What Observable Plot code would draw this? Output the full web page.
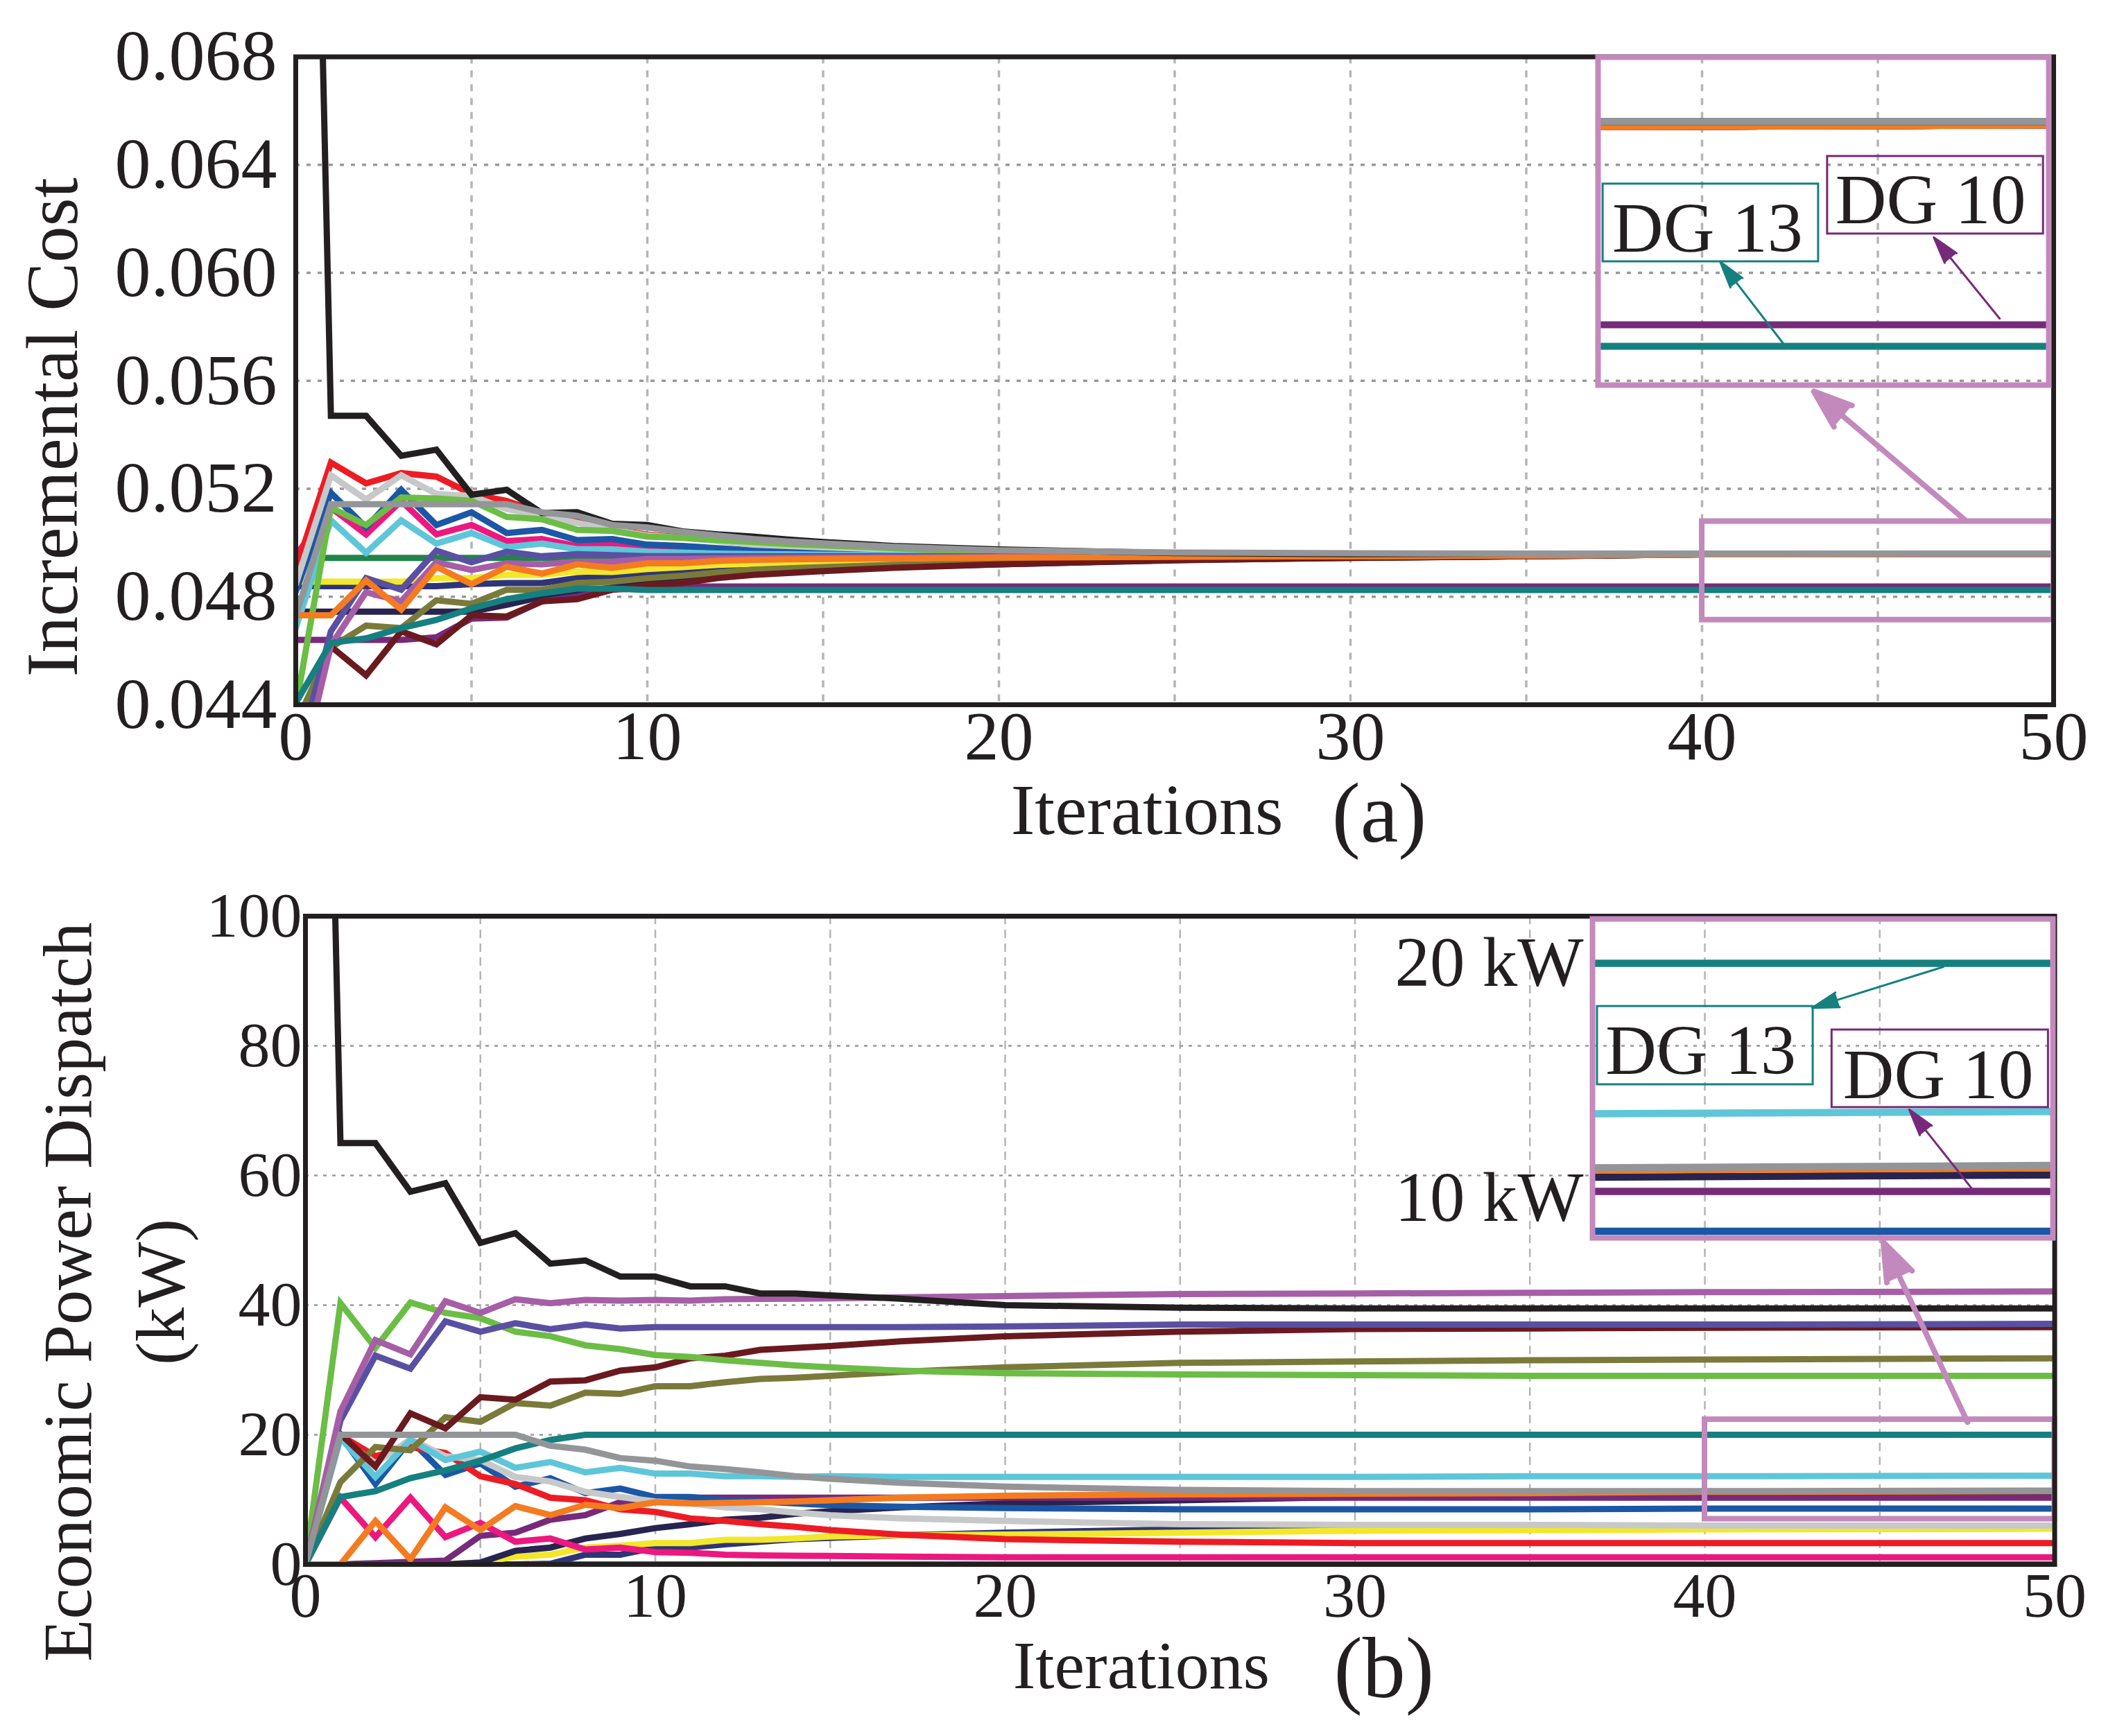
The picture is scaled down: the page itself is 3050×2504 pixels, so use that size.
<!DOCTYPE html>
<html><head><meta charset="utf-8">
<script src="https://cdn.jsdelivr.net/npm/d3@7"></script>
<script src="https://cdn.jsdelivr.net/npm/@observablehq/plot@0.6"></script>
<style>
html,body{margin:0;padding:0;background:#fff;overflow:hidden}
#fig{position:relative;width:3050px;height:2504px;background:#fff}
#fig > div{position:absolute}
</style></head><body><div id="fig">
<div id="top" style="left:0;top:0"></div>
<div id="bottom" style="left:0;top:1252px"></div>
<div id="insetTop" style="left:2294px;top:72px"></div>
<div id="insetBottom" style="left:1996px;top:1315px"></div>
</div>
<script>
// ---------- data ----------
const iterations = [0,1,2,3,4,5,6,7,8,9,10,11,12,13,14,15,17,20,25,30,35,40,50];

const seriesOrder = ["darkGreen","navy","yellow","darkNavy","purple","pink","blue","red","lightGray","cyan","olive","maroon","green","slate","lightPurple","orange","teal","black","gray"];
const seriesColors = ["#21844a","#2e3577","#f2e72a","#28244f","#772a7a","#ec187f","#1b57a5","#ed1c24","#c7c8ca","#5ec6d8","#7a7a3b","#6a1a1f","#6cbd45","#5950a2","#a65ea6","#f47b20","#15807f","#231f20","#939598"];

// (a) incremental cost
const costBlack = [0.1125,0.0547,0.0547,0.05322,0.05345,0.05178,0.05196,0.0511,0.05113,0.0507,0.05066,0.05042,0.05031,0.05023,0.05012,0.05003,0.04988,0.04975,0.04962,0.04958,0.0496,0.0496,0.0496];
const costRed = [0.0490,0.05297,0.0522,0.05258,0.05245,0.05181,0.05155,0.0511,0.0508,0.0505,0.0503,0.0502,0.0501,0.0500,0.04992,0.04985,0.04975,0.04963,0.0495,0.04951,0.04953,0.04957,0.04958];
const costLightGray = [0.04846,0.0525,0.0516,0.0525,0.05181,0.05173,0.05125,0.051,0.05074,0.05048,0.05027,0.05018,0.05006,0.04993,0.04988,0.04983,0.04975,0.04964,0.04952,0.04951,0.04953,0.04957,0.04958];
const costGray = [0.04729,0.05143,0.05143,0.05143,0.05143,0.05143,0.05143,0.05113,0.051,0.05066,0.05057,0.0504,0.05027,0.05014,0.05005,0.04998,0.04985,0.04972,0.04964,0.04961,0.0496,0.0496,0.0496];
const costGreen = [0.0439,0.0513,0.05066,0.05168,0.05164,0.05155,0.05096,0.05087,0.05048,0.05044,0.05023,0.05018,0.0501,0.05003,0.04995,0.0499,0.0498,0.04962,0.0495,0.04951,0.04953,0.04957,0.04958];
const costBlue = [0.04819,0.05185,0.05057,0.05196,0.05066,0.05113,0.05036,0.05048,0.0501,0.05014,0.04993,0.04988,0.0498,0.04972,0.04968,0.04965,0.0496,0.04955,0.0495,0.04951,0.04953,0.04957,0.04958];
const costPink = [0.04953,0.0513,0.05031,0.05155,0.05031,0.05066,0.05006,0.05014,0.04988,0.04993,0.0498,0.0498,0.04971,0.04967,0.04963,0.0496,0.04958,0.04955,0.0495,0.04951,0.04953,0.04957,0.04958];
const costCyan = [0.04684,0.05083,0.04963,0.05083,0.04997,0.05036,0.04984,0.04997,0.04976,0.04976,0.04967,0.04963,0.0496,0.04958,0.04957,0.04956,0.04954,0.04952,0.04949,0.04951,0.04953,0.04957,0.04958];
const costDarkGreen = [0.04944,0.04944,0.04944,0.04944,0.04944,0.04944,0.04944,0.04944,0.04944,0.04944,0.04944,0.04944,0.04944,0.04944,0.04944,0.04944,0.04945,0.04946,0.04948,0.0495,0.04952,0.04957,0.04958];
const costSlate = [0.0418,0.04672,0.04869,0.04826,0.04971,0.04928,0.04967,0.0495,0.04958,0.04954,0.0495,0.0495,0.0495,0.0495,0.0495,0.0495,0.0495,0.04949,0.04949,0.04951,0.04953,0.04957,0.04958];
const costLightPurple = [0.0407,0.0462,0.04817,0.04783,0.04928,0.04899,0.04924,0.0492,0.0493,0.0493,0.0494,0.0494,0.04942,0.04943,0.04944,0.04945,0.04946,0.04947,0.04948,0.0495,0.04953,0.04957,0.04958];
const costOrange = [0.04731,0.04731,0.0486,0.04753,0.04911,0.04847,0.04911,0.04886,0.0492,0.04907,0.04924,0.04924,0.04933,0.04937,0.04939,0.0494,0.04942,0.04945,0.04948,0.0495,0.04953,0.04957,0.04958];
const costYellow = [0.04856,0.04856,0.04856,0.04856,0.04869,0.04869,0.04881,0.04881,0.04894,0.04892,0.04903,0.0491,0.04918,0.04922,0.04926,0.0493,0.04935,0.0494,0.04946,0.04949,0.04952,0.04957,0.04958];
const costNavy = [0.04839,0.04839,0.04839,0.04839,0.04839,0.04847,0.04851,0.04851,0.04869,0.04873,0.04886,0.04895,0.04905,0.0491,0.04914,0.04918,0.04925,0.0493,0.0494,0.04946,0.0495,0.04957,0.04958];
const costDarkNavy = [0.04745,0.04745,0.04745,0.04745,0.04745,0.04745,0.0477,0.048,0.04817,0.04834,0.04851,0.04864,0.04877,0.0489,0.04895,0.049,0.0491,0.0492,0.04935,0.04945,0.0495,0.04957,0.04958];
const costOlive = [0.04329,0.04612,0.04693,0.04684,0.04787,0.04774,0.04826,0.04826,0.04851,0.04856,0.04869,0.04878,0.0489,0.049,0.04905,0.0491,0.04918,0.04925,0.04937,0.04944,0.0495,0.04957,0.04958];
const costTeal = [0.04406,0.04629,0.04646,0.04684,0.04714,0.04757,0.04791,0.04813,0.0483,0.0483,0.04825,0.04825,0.04825,0.04825,0.04825,0.04825,0.04825,0.04825,0.04825,0.04825,0.04825,0.04825,0.04825];
const costPurple = [0.0464,0.0464,0.0464,0.0464,0.0465,0.04719,0.04723,0.04783,0.048,0.04826,0.04832,0.04838,0.04838,0.04838,0.04838,0.04838,0.04838,0.04838,0.04838,0.04838,0.04838,0.04838,0.04838];
const costMaroon = [0.04184,0.04616,0.04509,0.04672,0.04624,0.04731,0.04727,0.04783,0.04791,0.04826,0.04843,0.04851,0.04869,0.04881,0.04888,0.04895,0.04907,0.0492,0.04936,0.04944,0.0495,0.04957,0.04958];

// (b) economic power dispatch (kW)
const powerBlack = [300,65,65,57.5,58.8,49.6,51.1,46.4,46.9,44.4,44.4,42.9,42.9,41.8,41.8,41.5,41.0,40.0,39.6,39.5,39.5,39.5,39.5];
const powerLightPurple = [0,23.6,34.6,32.4,40.6,38.8,40.9,40.3,40.8,40.7,40.8,40.7,40.9,40.95,41.0,41.05,41.2,41.4,41.7,41.8,41.9,42.0,42.1];
const powerSlate = [0,22.2,32.2,30.2,37.5,35.9,37.2,36.3,37.0,36.4,36.6,36.6,36.6,36.6,36.6,36.6,36.6,36.7,37.0,37.0,37.0,37.0,37.1];
const powerGreen = [0,40.3,33.4,40.4,38.8,38.0,35.9,35.2,33.8,33.2,32.3,32.0,31.5,31.1,30.7,30.4,29.9,29.5,29.3,29.2,29.1,29.1,29.1];
const powerMaroon = [0,20.1,15.1,23.3,21.0,25.8,25.4,28.2,28.4,29.9,30.4,31.8,32.2,33.1,33.4,33.7,34.4,35.2,35.9,36.3,36.4,36.5,36.6];
const powerOlive = [0,12.7,18.1,17.6,22.7,22.0,24.9,24.5,26.5,26.3,27.5,27.5,28.1,28.6,28.8,29.1,29.7,30.4,31.1,31.3,31.5,31.6,31.8];
const powerTeal = [0,10.4,11.3,13.3,14.5,16.0,17.9,19.2,20.0,20.0,20.0,20.0,20.0,20.0,20.0,20.0,20.0,20.0,20.0,20.0,20.0,20.0,20.0];
const powerGray = [0,20,20,20,20,20,20,18.3,17.7,16.4,16.0,15.1,14.7,14.2,13.6,13.2,12.6,12.0,11.5,11.3,11.3,11.3,11.4];
const powerCyan = [0,19.5,13.5,19.2,16.1,17.4,14.9,15.8,14.2,14.9,14.0,14.0,13.6,13.6,13.5,13.6,13.5,13.5,13.5,13.5,13.6,13.6,13.7];
const powerLightGray = [0,19.5,15.6,19.3,16.7,16.1,13.5,12.8,11.2,10.4,9.7,9.4,8.8,8.5,8.0,7.6,7.1,6.7,6.2,6.1,6.1,6.0,6.0];
const powerRed = [0,19.9,16.7,18.1,17.2,13.6,12.4,10.3,9.9,8.5,8.1,7.1,6.7,6.2,5.8,5.3,4.6,3.9,3.5,3.3,3.3,3.3,3.3];
const powerBlue = [0,19.9,12.4,19.2,13.8,15.6,12.0,13.3,11.0,11.7,10.4,10.4,9.9,9.7,9.4,9.15,8.9,8.7,8.5,8.5,8.5,8.6,8.6];
const powerPink = [0,10.3,4.2,10.3,4.2,6.4,3.5,4.0,2.3,2.6,1.9,1.8,1.5,1.4,1.35,1.3,1.2,1.1,1.1,1.1,1.1,1.1,1.1];
const powerOrange = [0,0,6.7,0.8,8.8,5.3,9.0,7.6,9.2,8.7,9.6,9.4,9.5,9.6,9.7,9.9,10.3,10.6,10.8,10.9,11.0,11.2,11.3];
const powerPurple = [0,0,0.2,0.4,0.6,4.4,4.9,6.9,7.6,9.6,10.3,10.3,10.3,10.3,10.3,10.3,10.3,10.3,10.3,10.3,10.3,10.3,10.3];
const powerDarkNavy = [0,0,0,0,0,0.3,2.1,2.6,4.0,4.7,5.6,6.2,6.9,7.2,7.8,8.2,8.8,9.4,9.9,10.4,10.7,10.9,11.0];
const powerNavy = [0,0,0,0,0,0,0,0.1,1.5,1.5,2.6,2.6,3.1,3.5,3.9,4.1,4.5,4.9,5.4,5.6,5.6,5.6,5.7];
const powerYellow = [0,0,0,0,0,0.3,1.2,1.5,2.6,2.9,3.3,3.3,3.8,3.8,4.0,4.3,4.5,4.6,4.9,5.2,5.3,5.4,5.5];
const powerDarkGreen = [0,0,0,0,0,0,0,0,0,0,0,0,0,0,0,0,0,0,0,0,0,0,0];

// ticks
const xTicks = [0,10,20,30,40,50];
const xGrid = [5,10,15,20,25,30,35,40,45];
const yTicksTop = [0.044,0.048,0.052,0.056,0.060,0.064,0.068];
const yGridTop = [0.048,0.052,0.056,0.060,0.064];
const yTicksBottom = [0,20,40,60,80,100];
const yGridBottom = [20,40,60,80];
const insetTicksBottom = [10,20];

// annotations (zoom boxes, arrows, labels)
const zoomBoxTop = [{x1:40,x2:50,y1:0.04714,y2:0.05079}];
const zoomArrowTop = [{x1:47.49,y1:0.050832,x2:43.18,y2:0.055608}];
const zoomBoxBottom = [{x1:40,x2:50,y1:7.0,y2:22.35}];
const zoomArrowBottom = [{x1:47.51,y1:21.93,x2:45.10,y2:49.73}];
const insetTopDomain = [0.048017,0.049988];
const insetBottomDomain = [8.32,21.89];
const dg13BoxTop = [{x1:40.11,x2:44.89,y1:0.048759,y2:0.049226}];
const dg10BoxTop = [{x1:45.09,x2:49.88,y1:0.048926,y2:0.049392}];
const dgLabelsTop = [{label:"DG 13",x:42.43,y:0.048956},{label:"DG 10",x:47.38,y:0.049126}];
const dg13ArrowTop = [{x1:44.11,y1:0.048267,x2:42.71,y2:0.048759}];
const dg10ArrowTop = [{x1:48.91,y1:0.048417,x2:47.45,y2:0.048905}];
const dg13BoxBottom = [{x1:40.105,x2:44.79,y1:14.84,y2:18.17}];
const dg10BoxBottom = [{x1:45.2,x2:49.9,y1:13.87,y2:17.17}];
const dgLabelsBottom = [{label:"DG 13",x:42.35,y:16.26},{label:"DG 10",x:47.51,y:15.22}];
const dg13ArrowBottom = [{x1:47.62,y1:19.85,x2:44.77,y2:18.11}];
const dg10ArrowBottom = [{x1:48.25,y1:10.39,x2:46.88,y2:13.78}];

// ---------- build tables ----------
const costSeries = {black:costBlack, red:costRed, lightGray:costLightGray, gray:costGray, green:costGreen, blue:costBlue, pink:costPink, cyan:costCyan, darkGreen:costDarkGreen, slate:costSlate, lightPurple:costLightPurple, orange:costOrange, yellow:costYellow, navy:costNavy, darkNavy:costDarkNavy, olive:costOlive, teal:costTeal, purple:costPurple, maroon:costMaroon};
const powerSeries = {black:powerBlack, red:powerRed, lightGray:powerLightGray, gray:powerGray, green:powerGreen, blue:powerBlue, pink:powerPink, cyan:powerCyan, darkGreen:powerDarkGreen, slate:powerSlate, lightPurple:powerLightPurple, orange:powerOrange, yellow:powerYellow, navy:powerNavy, darkNavy:powerDarkNavy, olive:powerOlive, teal:powerTeal, purple:powerPurple, maroon:powerMaroon};
const toRows = (m) => seriesOrder.flatMap(name => m[name].map((v, i) => ({name, it: iterations[i], v})));
const costRows = toRows(costSeries);
const powerRows = toRows(powerSeries);

const ink = "#231f20";
const pinkFrame = "#c389bc";
const tealC = "#15807f";
const purpleC = "#772a7a";
const font = "Liberation Serif, Times New Roman, serif";
const color = {domain: seriesOrder, range: seriesColors};
const lineOpts = {x: "it", y: "v", z: "name", stroke: "name", clip: true, strokeLinejoin: "miter", strokeMiterlimit: 3};
const rectKeys = {x1: "x1", x2: "x2", y1: "y1", y2: "y2"};
const lbl = {textAnchor: "middle", lineAnchor: "middle", fill: ink};

// ---------- (a) ----------
const topPlot = Plot.plot({
  width: 3050, height: 1252,
  marginLeft: 426, marginRight: 89, marginTop: 81.5, marginBottom: 236,
  x: {domain: [0, 50]}, y: {domain: [0.044, 0.068]}, color,
  style: {fontFamily: font, color: ink, background: "white", maxWidth: "none"},
  marks: [
    Plot.gridX(xGrid, {stroke: "#b5b5b5", strokeOpacity: 1, strokeWidth: 3.5, strokeDasharray: "10,10"}),
    Plot.gridY(yGridTop, {stroke: "#999", strokeOpacity: 1, strokeWidth: 3.5, strokeDasharray: "6,10"}),
    Plot.line(costRows, {...lineOpts, strokeWidth: 9}),
    Plot.rect(zoomBoxTop, {...rectKeys, fill: "none", stroke: pinkFrame, strokeWidth: 8}),
    Plot.arrow(zoomArrowTop, {...rectKeys, stroke: pinkFrame, fill: pinkFrame, strokeWidth: 8, headLength: 11, headAngle: 40}),
    Plot.frame({stroke: ink, strokeWidth: 7}),
    Plot.axisY({ticks: yTicksTop, tickFormat: d3.format(".3f"), tickSize: 0, tickPadding: 27, fontSize: 104, label: null}),
    Plot.axisX({ticks: xTicks, tickSize: 0, tickPadding: 7, fontSize: 100, label: null}),
    Plot.text(["Incremental Cost"], {...lbl, frameAnchor: "left", rotate: -90, dx: -349, dy: 67, fontSize: 105}),
    Plot.text(["Iterations"], {...lbl, frameAnchor: "bottom", dx: -40, dy: 153, fontSize: 104}),
    Plot.text(["(a)"], {...lbl, frameAnchor: "bottom", dx: 295, dy: 158, fontSize: 123})
  ]
});
document.getElementById("top").append(topPlot);

// ---------- (b) ----------
const bottomPlot = Plot.plot({
  width: 3050, height: 1252,
  marginLeft: 440, marginRight: 87.5, marginTop: 69, marginBottom: 248,
  x: {domain: [0, 50]}, y: {domain: [0, 100]}, color,
  style: {fontFamily: font, color: ink, background: "white", maxWidth: "none"},
  marks: [
    Plot.gridX(xGrid, {stroke: "#b5b5b5", strokeOpacity: 1, strokeWidth: 2.5, strokeDasharray: "12,8"}),
    Plot.gridY(yGridBottom, {stroke: "#999", strokeOpacity: 1, strokeWidth: 2.5, strokeDasharray: "5,8"}),
    Plot.line(powerRows, {...lineOpts, strokeWidth: 9}),
    Plot.rect(zoomBoxBottom, {...rectKeys, fill: "none", stroke: pinkFrame, strokeWidth: 8}),
    Plot.arrow(zoomArrowBottom, {...rectKeys, stroke: pinkFrame, fill: pinkFrame, strokeWidth: 8, headLength: 11, headAngle: 40}),
    Plot.frame({stroke: ink, strokeWidth: 7}),
    Plot.axisY({ticks: yTicksBottom, tickSize: 0, tickPadding: 5, fontSize: 92, label: null}),
    Plot.axisX({ticks: xTicks, tickSize: 0, tickPadding: 10, fontSize: 92, label: null}),
    Plot.text(["Economic Power Dispatch\n(kW)"], {...lbl, frameAnchor: "left", rotate: -90, dx: -285, dy: 74.5, fontSize: 100, lineHeight: 1.34}),
    Plot.text(["Iterations"], {...lbl, frameAnchor: "bottom", dx: -56, dy: 147, fontSize: 98}),
    Plot.text(["(b)"], {...lbl, frameAnchor: "bottom", dx: 294, dy: 152, fontSize: 124})
  ]
});
document.getElementById("bottom").append(bottomPlot);

// ---------- inset (a) ----------
const insetTop = Plot.plot({
  width: 670, height: 493, margin: 10,
  x: {domain: [40, 50], axis: null}, y: {domain: insetTopDomain, axis: null}, color,
  style: {fontFamily: font, color: ink, background: "transparent", overflow: "visible", maxWidth: "none"},
  marks: [
    Plot.line(costRows, {...lineOpts, strokeWidth: 10}),
    Plot.rect(dg13BoxTop, {...rectKeys, fill: "none", stroke: tealC, strokeWidth: 3}),
    Plot.rect(dg10BoxTop, {...rectKeys, fill: "none", stroke: purpleC, strokeWidth: 3}),
    Plot.text(dgLabelsTop, {x: "x", y: "y", text: "label", fontSize: 102, fill: ink}),
    Plot.arrow(dg13ArrowTop, {...rectKeys, stroke: tealC, fill: tealC, strokeWidth: 3, headLength: 20, headAngle: 32}),
    Plot.arrow(dg10ArrowTop, {...rectKeys, stroke: purpleC, fill: purpleC, strokeWidth: 3, headLength: 20, headAngle: 32}),
    Plot.frame({stroke: pinkFrame, strokeWidth: 8})
  ]
});
document.getElementById("insetTop").append(insetTop);

// ---------- inset (b) ----------
const insetBottom = Plot.plot({
  width: 974, height: 480, marginLeft: 300, marginRight: 10, marginTop: 10, marginBottom: 10,
  x: {domain: [40, 50], axis: null}, y: {domain: insetBottomDomain, axis: null}, color,
  style: {fontFamily: font, color: ink, background: "transparent", overflow: "visible", maxWidth: "none"},
  marks: [
    Plot.line(powerRows, {...lineOpts, strokeWidth: 10.5}),
    Plot.rect(dg13BoxBottom, {...rectKeys, fill: "none", stroke: tealC, strokeWidth: 3}),
    Plot.rect(dg10BoxBottom, {...rectKeys, fill: "none", stroke: purpleC, strokeWidth: 3}),
    Plot.text(dgLabelsBottom, {x: "x", y: "y", text: "label", fontSize: 102, fill: ink}),
    Plot.arrow(dg13ArrowBottom, {...rectKeys, stroke: tealC, fill: tealC, strokeWidth: 3, headLength: 20, headAngle: 32}),
    Plot.arrow(dg10ArrowBottom, {...rectKeys, stroke: purpleC, fill: purpleC, strokeWidth: 3, headLength: 20, headAngle: 32}),
    Plot.frame({stroke: pinkFrame, strokeWidth: 8}),
    Plot.axisY({ticks: insetTicksBottom, tickFormat: d => `${d} kW`, tickSize: 0, tickPadding: 13, fontSize: 101, label: null})
  ]
});
document.getElementById("insetBottom").append(insetBottom);
</script>
</body></html>
